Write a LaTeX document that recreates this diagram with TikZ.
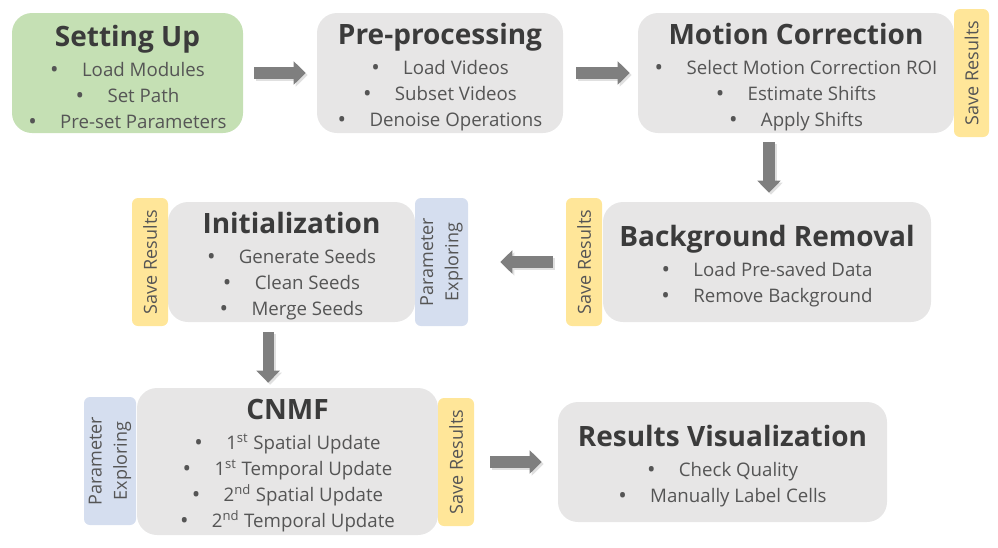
\documentclass[tikz,border=0pt]{standalone}
\usepackage{fontspec}
\setmainfont{Open Sans}
\usetikzlibrary{arrows.meta}
\definecolor{boxgray}{HTML}{E7E6E6}
\definecolor{boxgreen}{HTML}{C5E0B4}
\definecolor{tabyellow}{HTML}{FFE699}
\definecolor{tabblue}{HTML}{D5DEEF}
\definecolor{arrowgray}{HTML}{7F7F7F}
\definecolor{titlegray}{HTML}{3B3B3B}
\definecolor{itemgray}{HTML}{555555}
\newcommand{\ttl}[1]{{\fontsize{21}{24}\selectfont\bfseries\color{titlegray}\rule{0pt}{22pt}#1}\\[3pt]}
\newcommand{\itm}[1]{\raisebox{-0.6pt}{\fontsize{17}{0}\selectfont\textbullet}\hspace{17.5pt}#1}
\tikzset{
	stagebox/.style={rounded corners=15pt, fill=boxgray, text=itemgray, align=center,
		font=\fontsize{14}{19.5}\selectfont, inner sep=0pt},
	tabbox/.style={rounded corners=4.5pt, rotate=90, text=itemgray, align=center,
		font=\fontsize{13.5}{19}\selectfont, inner sep=0pt, minimum width=96pt},
	flow/.style={line width=8.5pt, draw=arrowgray, -{Triangle[length=9pt,width=17pt]}},
	flowshadow/.style={flow, draw=black!12, transform canvas={shift={(1.5pt,-1.5pt)}}},
}
\begin{document}
\begin{tikzpicture}[x=0.75pt, y=-0.75pt]
	\useasboundingbox (0,0) rectangle (998,547);
	% obere Reihe
	\node[stagebox, fill=boxgreen, minimum width=173.25pt, minimum height=90pt] (setup) at (127.5, 73)
		{\ttl{Setting Up} \itm{Load Modules}\\ \itm{Set Path}\\ \itm{Pre-set Parameters}};
	\node[stagebox, minimum width=184.5pt, minimum height=90pt] (prep) at (440, 73)
		{\ttl{Pre-processing} \itm{Load Videos}\\ \itm{Subset Videos}\\ \itm{Denoise Operations}};
	\node[stagebox, minimum width=237pt, minimum height=90pt] (motion) at (796, 73)
		{\ttl{Motion Correction} \itm{Select Motion Correction ROI}\\ \itm{Estimate Shifts}\\ \itm{Apply Shifts}};
	\node[tabbox, fill=tabyellow, minimum height=26.25pt] (motsave) at (971.5, 73) {Save Results};

	% mittlere Reihe
	\node[stagebox, minimum width=246pt, minimum height=90pt] (bgrem) at (767, 262)
		{\ttl{Background Removal} \itm{Load Pre-saved Data}\\ \itm{Remove Background}};
	\node[tabbox, fill=tabyellow, minimum height=27pt] (bgsave) at (584, 262) {Save Results};
	\node[stagebox, minimum width=185.25pt, minimum height=90pt] (init) at (291.5, 262)
		{\ttl{Initialization} \itm{Generate Seeds}\\ \itm{Clean Seeds}\\ \itm{Merge Seeds}};
	\node[tabbox, fill=tabyellow, minimum height=27pt] (initsave) at (150, 262) {Save Results};
	\node[tabbox, fill=tabblue, minimum height=39.75pt] (initpar) at (441.5, 262) {Parameter\\Exploring};

	% untere Reihe
	\node[stagebox, minimum width=225.75pt, minimum height=110.25pt] (cnmf) at (287.5, 461.5)
		{\ttl{CNMF} \itm{1\textsuperscript{st} Spatial Update}\\ \itm{1\textsuperscript{st} Temporal Update}\\
		\itm{2\textsuperscript{nd} Spatial Update}\\ \itm{2\textsuperscript{nd} Temporal Update}};
	\node[tabbox, fill=tabblue, minimum height=39pt] (cnmfpar) at (110, 461) {Parameter\\Exploring};
	\node[tabbox, fill=tabyellow, minimum height=27pt] (cnmfsave) at (456, 462) {Save Results};
	\node[stagebox, minimum width=246.75pt, minimum height=90pt] (resvis) at (722.5, 462)
		{\ttl{Results Visualization} \itm{Check Quality}\\ \itm{Manually Label Cells}};

	% Pfeile
	\foreach \s in {flowshadow, flow} {
		\draw[\s, shorten <=8.25pt, shorten >=8.25pt] (setup) -- (prep);
		\draw[\s, shorten <=9.75pt, shorten >=6pt] (prep) -- (motion);
		\draw[\s, shorten <=6.75pt, shorten >=6.75pt] ([xshift=1.5pt]bgrem.north |- motion.south)
			-- ([xshift=1.5pt]bgrem.north);
		\draw[\s, shorten <=9.75pt, shorten >=24pt] (bgsave) -- (initpar);
		\draw[\s, shorten <=7.5pt, shorten >=3.75pt] ([xshift=-17.5pt]init.south)
			-- ([xshift=-17.5pt]init.south |- cnmf.north);
		\draw[\s, shorten <=12pt, shorten >=12pt] (cnmfsave) -- (resvis);
	}
\end{tikzpicture}
\end{document}
